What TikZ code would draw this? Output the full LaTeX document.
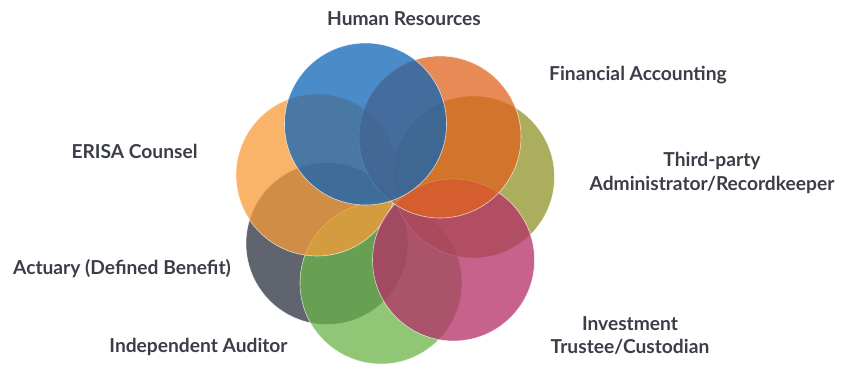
\documentclass[tikz,border=0pt]{standalone}
\usepackage{fontspec}
\setmainfont{Lato}
\definecolor{labeltext}{RGB}{59,62,72}
\definecolor{hrblue}{RGB}{14,100,183}
\definecolor{faorange}{RGB}{224,99,28}
\definecolor{tpaolive}{RGB}{143,147,38}
\definecolor{invpink}{RGB}{180,46,103}
\definecolor{audgreen}{RGB}{106,180,74}
\definecolor{actgray}{RGB}{43,48,63}
\definecolor{erisaorange}{RGB}{247,155,56}
\begin{document}
\begin{tikzpicture}[x=1pt,y=-1pt,
    petal/.style={draw=white,draw opacity=0.7,line width=0.6pt,circle,inner sep=0pt,fill opacity=0.75},
    lbl/.style={text=labeltext,font=\fontsize{19.2}{23.3}\selectfont\bfseries,inner sep=0pt}]
        \useasboundingbox (0,0) rectangle (842,364);
        \pgfmathsetmacro{\petalsize}{162}

        %draw circles, bottom one first
        \foreach \name/\col/\x/\y in {act/actgray/327/243.5, aud/audgreen/381/283, erisa/erisaorange/317/175,
                                     tpa/tpaolive/473.5/177, inv/invpink/453.5/260, fa/faorange/440/137, hr/hrblue/365.5/124}{
            \node[petal,fill=\col,minimum size=\petalsize pt] (\name) at (\x,\y) {};
        }
        %place labels
        \node[lbl] (hrlabel) at (404,19) {Human Resources};
        \node[lbl,anchor=west] (falabel) at (549,75) {Financial Accounting};
        \node[lbl,align=center] (tpalabel) at (712,173) {Third-party\\Administrator/Recordkeeper};
        \node[lbl,align=center] (invlabel) at (630,335.5) {Investment\\Trustee/Custodian};
        \node[lbl] (audlabel) at (198.5,347) {Independent Auditor};
        \node[lbl] (actlabel) at (122,269) {Actuary (Defined Benefit)};
        \node[lbl] (erisalabel) at (134.5,151) {ERISA Counsel};

      \end{tikzpicture}
\end{document}
